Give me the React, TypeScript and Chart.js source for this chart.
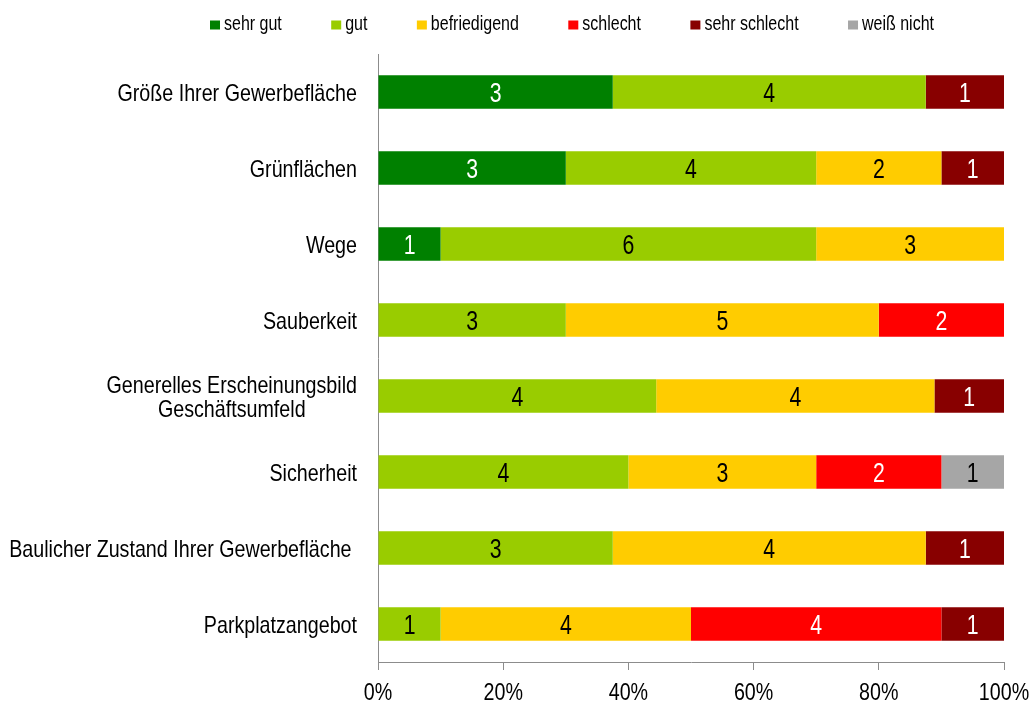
import React, { useEffect, useRef } from "react";
import { Chart, registerables } from "chart.js";

Chart.register(...registerables);

const categories: (string | string[])[] = [
  "Größe Ihrer Gewerbefläche",
  "Grünflächen",
  "Wege",
  "Sauberkeit",
  ["Generelles Erscheinungsbild", "Geschäftsumfeld"],
  "Sicherheit",
  "Baulicher Zustand Ihrer Gewerbefläche ",
  "Parkplatzangebot",
];

const seriesNames = ["sehr gut", "gut", "befriedigend", "schlecht", "sehr schlecht", "weiß nicht"];
const seriesColors = ["#008000", "#99CC00", "#FFCC00", "#FF0000", "#880000", "#A6A6A6"];
const labelColors = ["#FFFFFF", "#000000", "#000000", "#FFFFFF", "#FFFFFF", "#000000"];

const sehrGut = [3, 3, 1, 0, 0, 0, 0, 0];
const gut = [4, 4, 6, 3, 4, 4, 3, 1];
const befriedigend = [0, 2, 3, 5, 4, 3, 4, 4];
const schlecht = [0, 0, 0, 2, 0, 2, 0, 4];
const sehrSchlecht = [1, 1, 0, 0, 1, 0, 1, 1];
const weissNicht = [0, 0, 0, 0, 0, 1, 0, 0];

const xTicks = [0, 20, 40, 60, 80, 100];

const counts = [sehrGut, gut, befriedigend, schlecht, sehrSchlecht, weissNicht];
const totals = categories.map((_, i) => counts.reduce((s, arr) => s + arr[i], 0));

const FONT = "'Liberation Sans', Arial, sans-serif";
const SQUEEZE = 0.82;

function narrowText(
  ctx: CanvasRenderingContext2D,
  text: string,
  x: number,
  y: number,
  size: number,
  align: CanvasTextAlign,
  color: string,
  sx: number = SQUEEZE
) {
  ctx.save();
  ctx.translate(x, y);
  ctx.scale(sx, 1);
  ctx.font = `${size}px ${FONT}`;
  ctx.textAlign = align;
  ctx.textBaseline = "middle";
  ctx.fillStyle = color;
  ctx.fillText(text, 0, 0);
  ctx.restore();
}

function narrowWidth(ctx: CanvasRenderingContext2D, text: string, size: number, sx: number = SQUEEZE) {
  ctx.save();
  ctx.font = `${size}px ${FONT}`;
  const w = ctx.measureText(text).width * sx;
  ctx.restore();
  return w;
}

const dataLabelPlugin = {
  id: "dataLabels",
  afterDatasetsDraw(chart: any) {
    const ctx = chart.ctx;
    chart.data.datasets.forEach((_ds: any, di: number) => {
      const meta = chart.getDatasetMeta(di);
      meta.data.forEach((el: any, i: number) => {
        const c = counts[di][i];
        if (!c) return;
        const x = (el.x + el.base) / 2;
        narrowText(ctx, String(c), x, el.y + 2, 28, "center", labelColors[di], 0.76);
      });
    });
  },
};

const textPlugin = {
  id: "axisText",
  afterDraw(chart: any) {
    const ctx = chart.ctx;
    // category labels
    const y = chart.scales.y;
    const right = y.right - 21;
    categories.forEach((c, i) => {
      const cy = y.getPixelForTick(i) + 2;
      if (Array.isArray(c)) {
        const maxW = Math.max(...c.map((l) => narrowWidth(ctx, l, 24)));
        const cx = right - maxW / 2;
        const lh = 24;
        c.forEach((l, k) => {
          narrowText(ctx, l, cx, cy + (k - (c.length - 1) / 2) * lh, 24, "center", "#000");
        });
      } else {
        narrowText(ctx, c, right, cy, 24, "right", "#000");
      }
    });
    // x tick labels
    const x = chart.scales.x;
    xTicks.forEach((v) => {
      narrowText(ctx, `${v}%`, x.getPixelForValue(v), x.top + 31, 24, "center", "#000");
    });
    // legend
    const size = 19.5;
    const boxW = 10;
    const boxH = 9;
    const gapBT = 4;
    const left = 210;
    const rightEnd = 934;
    const ly = 25;
    const widths = seriesNames.map((n) => boxW + gapBT + narrowWidth(ctx, n, size));
    const sum = widths.reduce((a, b) => a + b, 0);
    const gap = (rightEnd - left - sum) / (seriesNames.length - 1);
    let px = left;
    seriesNames.forEach((n, k) => {
      ctx.save();
      ctx.fillStyle = seriesColors[k];
      ctx.fillRect(px, ly - boxH / 2, boxW, boxH);
      ctx.restore();
      narrowText(ctx, n, px + boxW + gapBT, ly, size, "left", "#000");
      px += widths[k] + gap;
    });
  },
};

export default function App() {
  const ref = useRef<HTMLCanvasElement>(null);
  useEffect(() => {
    if (!ref.current) return;
    const datasets = seriesNames.map((name, di) => ({
      label: name,
      data: counts[di].map((v, i) => (v / totals[i]) * 100),
      backgroundColor: seriesColors[di],
      borderWidth: 0,
      barPercentage: 0.44,
      categoryPercentage: 1,
    }));
    const chart = new Chart(ref.current, {
      type: "bar",
      data: {
        labels: categories.map((c) => (Array.isArray(c) ? c.join(" ") : c)),
        datasets,
      },
      options: {
        indexAxis: "y",
        responsive: false,
        animation: false,
        layout: { padding: { top: 54, right: 29, bottom: 0, left: 0 } },
        plugins: {
          legend: { display: false },
          tooltip: { enabled: false },
        },
        scales: {
          x: {
            stacked: true,
            min: 0,
            max: 100,
            afterBuildTicks: (scale: any) => {
              scale.ticks = xTicks.map((v) => ({ value: v }));
            },
            afterFit: (scale: any) => {
              scale.height = 41;
              scale.paddingLeft = 0;
              scale.paddingRight = 0;
            },
            grid: {
              drawOnChartArea: false,
              drawTicks: true,
              tickLength: 8,
              color: "#8C8C8C",
            },
            border: { display: true, color: "#8C8C8C", width: 1 },
            ticks: {
              color: "rgba(0,0,0,0)",
              font: { family: FONT, size: 12 },
              maxRotation: 0,
              callback: (v: any) => `${v}%`,
            },
          },
          y: {
            stacked: true,
            afterFit: (scale: any) => {
              scale.width = 378;
              scale.paddingTop = 0;
              scale.paddingBottom = 0;
            },
            grid: { display: false, drawTicks: false },
            border: { display: true, color: "#8C8C8C", width: 1 },
            ticks: {
              color: "rgba(0,0,0,0)",
              font: { family: FONT, size: 12 },
              padding: 21,
            },
          },
        },
      },
      plugins: [dataLabelPlugin, textPlugin],
    });
    return () => chart.destroy();
  }, []);
  return (
    <div style={{ position: "absolute", left: 0, top: 0, width: 1033, height: 703, background: "#fff" }}>
      <canvas ref={ref} width={1033} height={703} style={{ display: "block" }} />
    </div>
  );
}
